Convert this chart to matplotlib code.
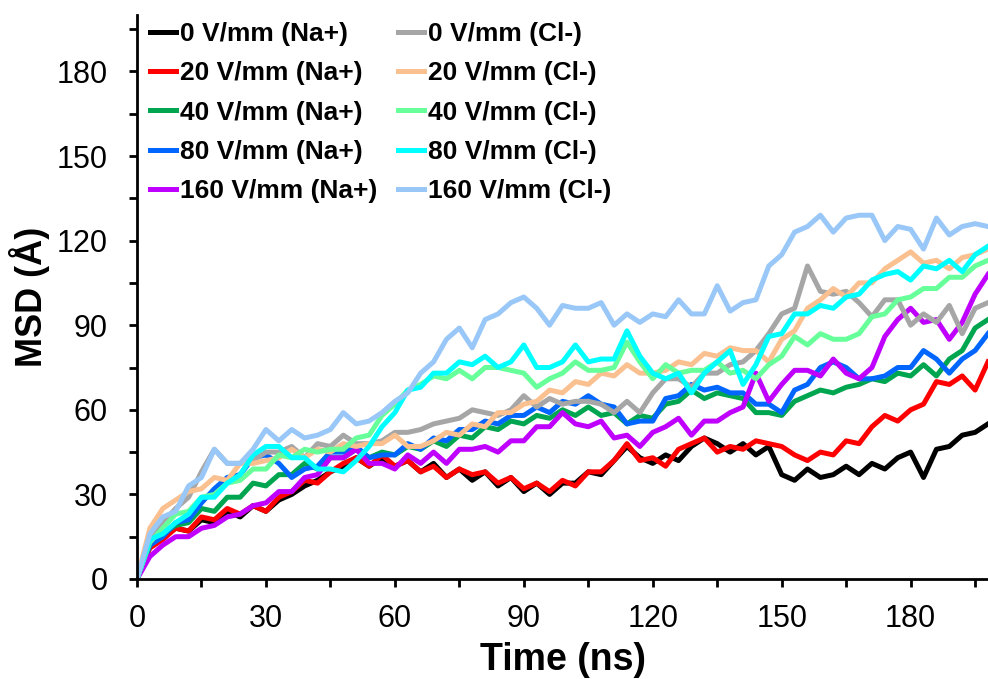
import matplotlib
matplotlib.use("Agg")
import matplotlib.pyplot as plt
from matplotlib.ticker import MultipleLocator
import numpy as np

plt.rcParams["font.family"] = ["Liberation Sans", "DejaVu Sans"]

# sampling times (ns) shared by all traces
time_ns = np.arange(0, 199, 3)

# mean squared displacement (Å) per field strength, sodium ions
msd_na_0 = [0, 12, 15, 18, 17, 21, 20, 24, 22, 26, 24, 28, 30, 33, 35, 38, 40, 43, 40, 43,
            40, 42, 38, 41, 36, 39, 35, 38, 33, 36, 31, 34, 30, 34, 34, 38, 37, 42, 47, 43,
            41, 44, 42, 47, 50, 48, 45, 48, 44, 47, 37, 35, 39, 36, 37, 40, 37, 41, 39, 43,
            45, 36, 46, 47, 51, 52, 55]
msd_na_20 = [0, 11, 14, 18, 17, 22, 21, 25, 23, 26, 24, 29, 31, 35, 34, 38, 41, 43, 40, 44,
             40, 42, 38, 40, 36, 39, 37, 38, 34, 36, 32, 34, 31, 35, 33, 38, 38, 42, 48, 42,
             43, 40, 46, 48, 50, 45, 47, 46, 49, 48, 47, 44, 42, 45, 44, 49, 48, 54, 58, 56,
             60, 62, 70, 69, 72, 67, 77]
msd_na_40 = [0, 12, 16, 19, 20, 25, 24, 29, 29, 34, 33, 37, 37, 41, 39, 43, 43, 46, 43, 45,
             44, 47, 46, 49, 47, 51, 50, 54, 53, 56, 55, 58, 57, 60, 58, 61, 58, 59, 55, 58,
             57, 62, 63, 67, 64, 66, 65, 64, 59, 59, 58, 63, 65, 67, 66, 68, 69, 71, 70, 73,
             72, 76, 72, 78, 81, 89, 92]
msd_na_80 = [0, 12, 15, 20, 21, 27, 32, 36, 37, 43, 44, 41, 36, 39, 40, 45, 45, 47, 43, 44,
             44, 48, 46, 50, 49, 53, 53, 56, 55, 58, 58, 61, 59, 63, 62, 65, 62, 61, 55, 56,
             56, 64, 65, 69, 67, 68, 66, 66, 62, 62, 59, 67, 69, 75, 77, 75, 71, 71, 72, 75,
             75, 81, 78, 73, 78, 81, 87]
msd_na_160 = [0, 8, 12, 15, 15, 18, 19, 22, 23, 26, 27, 31, 31, 36, 37, 43, 43, 46, 41, 41,
              39, 44, 41, 45, 41, 46, 46, 47, 45, 49, 49, 54, 54, 59, 55, 54, 56, 50, 51, 47,
              52, 54, 57, 51, 56, 56, 59, 61, 73, 63, 69, 74, 74, 72, 78, 73, 71, 75, 86, 92,
              96, 91, 92, 85, 91, 101, 108]

# mean squared displacement (Å) per field strength, chloride ions
msd_cl_0 = [0, 14, 20, 25, 29, 38, 46, 41, 41, 42, 45, 45, 47, 43, 48, 47, 51, 48, 48, 49,
            52, 52, 53, 55, 56, 57, 60, 59, 58, 60, 65, 61, 64, 62, 63, 63, 62, 59, 63, 59,
            66, 71, 71, 68, 73, 73, 76, 77, 81, 87, 94, 96, 111, 102, 101, 102, 98, 93, 99, 99,
            90, 94, 91, 97, 87, 96, 98]
msd_cl_20 = [0, 18, 25, 28, 31, 32, 36, 35, 41, 41, 42, 43, 46, 43, 46, 45, 48, 47, 48, 48,
             51, 47, 47, 49, 52, 51, 55, 54, 59, 59, 62, 63, 67, 66, 70, 69, 73, 72, 76, 73,
             73, 74, 77, 76, 80, 79, 82, 81, 81, 77, 85, 88, 96, 99, 103, 100, 105, 105, 110, 113,
             116, 112, 113, 110, 114, 115, 117]
msd_cl_40 = [0, 13, 18, 23, 24, 29, 30, 34, 35, 39, 39, 44, 43, 46, 45, 46, 46, 50, 51, 58,
             62, 67, 69, 72, 71, 74, 71, 75, 75, 74, 73, 68, 71, 73, 77, 74, 74, 75, 84, 77,
             71, 76, 73, 74, 74, 77, 73, 74, 71, 76, 79, 86, 83, 87, 85, 85, 87, 93, 94, 99,
             100, 103, 103, 107, 107, 111, 113]
msd_cl_80 = [0, 14, 16, 20, 23, 29, 29, 34, 37, 44, 47, 47, 43, 43, 39, 39, 38, 42, 47, 54,
             59, 67, 68, 73, 73, 77, 76, 79, 75, 77, 83, 75, 75, 77, 83, 77, 78, 78, 88, 79,
             73, 71, 73, 66, 73, 77, 81, 69, 76, 86, 87, 94, 94, 97, 96, 100, 101, 106, 108, 109,
             106, 111, 110, 113, 109, 115, 118]
msd_cl_160 = [0, 16, 22, 24, 33, 36, 46, 41, 41, 46, 53, 49, 53, 50, 51, 53, 59, 55, 56, 59,
              63, 66, 73, 77, 85, 89, 82, 92, 94, 98, 100, 96, 90, 97, 96, 96, 98, 90, 94, 91,
              94, 93, 99, 94, 94, 104, 95, 98, 99, 111, 115, 123, 125, 129, 123, 128, 129, 129, 120, 125,
              124, 117, 128, 122, 125, 126, 125]

fields = ["0", "20", "40", "80", "160"]
na_series = [msd_na_0, msd_na_20, msd_na_40, msd_na_80, msd_na_160]
cl_series = [msd_cl_0, msd_cl_20, msd_cl_40, msd_cl_80, msd_cl_160]
na_colors = ["#000000", "#ff0000", "#00a550", "#0066ff", "#c000ff"]
cl_colors = ["#a6a6a6", "#fac090", "#66ff99", "#00ffff", "#99c8f8"]

fig = plt.figure(figsize=(9.88, 6.79), dpi=100)
ax = fig.add_axes([137 / 988, 100 / 679, 851 / 988, 564 / 679])

for field, values, color in zip(fields, na_series, na_colors):
    ax.plot(time_ns, values, color=color, lw=3.6, label=f"{field} V/mm (Na+)")
for field, values, color in zip(fields, cl_series, cl_colors):
    ax.plot(time_ns, values, color=color, lw=3.6, label=f"{field} V/mm (Cl-)")

ax.set_xlim(0, 198)
ax.set_ylim(0, 200)
ax.xaxis.set_major_locator(MultipleLocator(30))
ax.xaxis.set_minor_locator(MultipleLocator(15))
ax.yaxis.set_minor_locator(MultipleLocator(15))
ax.set_yticks([0, 30, 60, 90, 120, 150, 180])

for side in ["top", "right"]:
    ax.spines[side].set_visible(False)
for side in ["left", "bottom"]:
    ax.spines[side].set_linewidth(2.0)

ax.tick_params(which="both", direction="out", width=2.0, length=6)
ax.tick_params(axis="x", which="major", labelsize=22, pad=12)
ax.tick_params(axis="y", which="major", labelsize=22, pad=15)

ax.set_xlabel("Time (ns)", fontsize=27, fontweight="bold", labelpad=6)
ax.set_ylabel("MSD (Å)", fontsize=26, fontweight="bold", labelpad=4.5)

ax.legend(loc="upper left", bbox_to_anchor=(0.0153, 0.9876), ncol=2, frameon=False,
          prop={"size": 19, "weight": "bold"}, handlelength=1.0, handletextpad=0.12,
          columnspacing=0.8, labelspacing=0.58, borderaxespad=0, borderpad=0)

fig.savefig("out.png", dpi=100)
